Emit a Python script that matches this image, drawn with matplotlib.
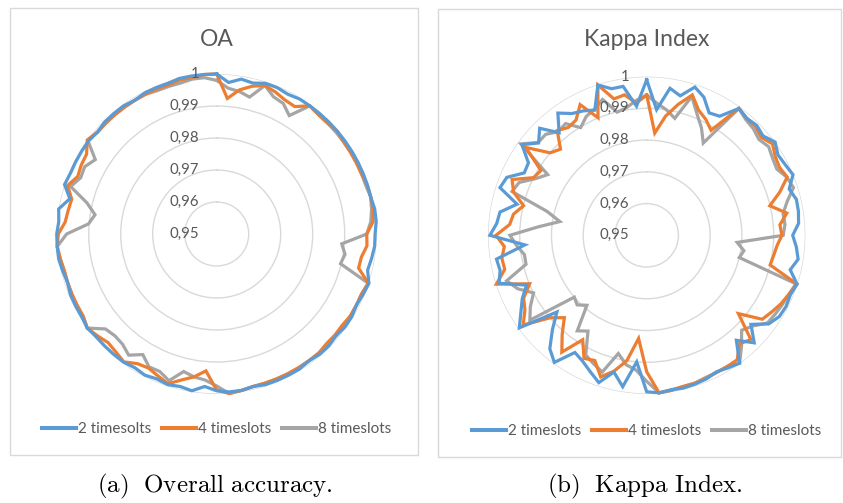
import numpy as np
import matplotlib.pyplot as plt
from matplotlib.patches import Rectangle
from matplotlib.lines import Line2D
from matplotlib.transforms import offset_copy

# 80 samples per series, starting at the top and going clockwise
oa_2 = [1.0, 0.9975, 0.999, 0.9985, 0.9995, 0.9995, 0.999, 0.9995, 0.9995, 0.9995,
        0.9995, 0.9995, 0.9995, 0.9995, 0.9995, 0.9995, 0.9995, 0.9995, 1.0, 1.0,
        0.9995, 0.9995, 0.999, 0.9985, 1.0, 0.9995, 0.999, 0.9995, 0.9995, 0.999,
        0.9995, 0.9995, 0.999, 0.9995, 0.9995, 0.9995, 0.9995, 0.999, 0.9995, 0.9995,
        0.999, 0.9978, 0.9996, 0.999, 0.9995, 0.999, 0.9995, 0.999, 0.9995, 0.9995,
        0.9995, 0.9995, 1.0, 0.9995, 0.9995, 0.9995, 0.999, 0.9995, 1.0, 1.0,
        1.0, 0.9995, 1.0, 0.9972, 1.0, 0.9995, 0.9995, 0.9995, 0.9995, 0.999,
        0.9995, 0.9995, 0.9995, 0.999, 0.9995, 0.9995, 0.9995, 1.0, 1.0, 1.0]
oa_4 = [1.0, 0.9925, 0.9956, 0.9975, 0.9988, 0.998, 0.997, 0.9967, 0.9995, 0.999,
        0.999, 0.9995, 0.999, 0.999, 0.999, 0.999, 0.9995, 0.9995, 0.9995, 0.999,
        0.9969, 0.9971, 0.9958, 0.9956, 0.9998, 0.999, 0.999, 0.999, 0.9985, 0.9986,
        0.9985, 0.999, 0.999, 0.999, 0.999, 0.999, 0.999, 0.999, 0.9995, 1.0,
        0.9988, 0.9929, 0.9952, 0.9969, 0.9992, 0.998, 0.997, 0.9975, 0.9994, 0.9985,
        0.998, 0.999, 1.0, 0.999, 0.999, 0.999, 0.999, 0.999, 0.9995, 1.0,
        0.9995, 0.9975, 0.997, 0.9966, 0.999, 0.997, 0.9975, 0.9977, 1.0, 0.999,
        0.999, 0.999, 0.999, 0.999, 0.999, 0.999, 0.999, 0.9995, 0.9995, 1.0]
oa_8 = [0.998, 0.9957, 0.9951, 0.994, 0.9988, 0.9964, 0.9958, 0.9934, 0.9995, 0.999,
        0.999, 0.999, 0.999, 0.999, 0.999, 0.999, 0.999, 0.9995, 0.999, 0.9983,
        0.9969, 0.9892, 0.9906, 0.9898, 0.9998, 0.999, 0.999, 0.999, 0.999, 0.999,
        0.999, 0.999, 0.999, 0.999, 0.999, 0.999, 0.999, 0.999, 0.9995, 1.0,
        0.9975, 0.9958, 0.9952, 0.9942, 0.9982, 0.9965, 0.9966, 0.9942, 0.9968, 0.9953,
        0.995, 0.9957, 1.0, 0.999, 0.999, 0.999, 0.999, 0.999, 0.9995, 1.0,
        0.9969, 0.9902, 0.9885, 0.9917, 0.998, 0.996, 0.9963, 0.9945, 0.9998, 0.999,
        0.999, 0.999, 0.999, 0.999, 0.999, 0.9985, 0.9985, 0.9985, 0.999, 0.999]

kappa_2 = [0.999, 0.9897, 0.9969, 0.9952, 0.9991, 0.9971, 0.9933, 0.994, 0.9994, 0.9985,
           0.999, 0.9982, 1.0, 0.9985, 0.999, 0.9999, 0.9972, 0.9985, 0.9984, 0.998,
           0.996, 0.9973, 0.9983, 0.9965, 0.9998, 0.999, 0.9993, 0.999, 0.9975, 0.9932,
           0.9979, 0.9935, 0.9998, 0.999, 0.9983, 0.999, 0.9993, 0.9995, 0.9993, 0.9998,
           0.9993, 0.99, 0.9983, 0.9943, 0.9988, 0.9965, 0.9945, 0.9933, 0.9995, 0.997,
           0.992, 0.9872, 0.9996, 0.9965, 0.994, 0.991, 0.9989, 0.9975, 0.9979, 0.9885,
           0.9994, 0.9974, 0.9968, 0.992, 0.9986, 0.9977, 0.9933, 0.9937, 0.9986, 0.9948,
           0.9977, 0.9925, 0.9976, 0.995, 0.994, 0.9927, 0.9998, 0.9975, 0.9975, 0.9908]
kappa_4 = [0.9942, 0.9823, 0.988, 0.9924, 0.9965, 0.9927, 0.991, 0.9888, 0.9994, 0.9985,
           0.9985, 0.9975, 0.999, 0.9975, 0.997, 0.9979, 0.9941, 0.9899, 0.9947, 0.9921,
           0.9926, 0.9912, 0.9905, 0.99, 0.9998, 0.9985, 0.9975, 0.9962, 0.995, 0.988,
           0.9964, 0.995, 0.9985, 0.9985, 0.9985, 0.9988, 0.999, 0.999, 0.9995, 0.9998,
           0.993, 0.9826, 0.99, 0.994, 0.9969, 0.9927, 0.9935, 0.9886, 0.9955, 0.991,
           0.9867, 0.99, 0.9981, 0.995, 0.9935, 0.9899, 0.9998, 0.996, 0.9962, 0.995,
           0.9975, 0.9933, 0.9925, 0.9899, 0.9941, 0.9959, 0.99, 0.9891, 0.9971, 0.99,
           0.9884, 0.9934, 0.992, 0.9926, 0.9962, 0.9901, 0.9998, 0.9942, 0.9948, 0.9918]
kappa_8 = [0.9942, 0.9917, 0.99, 0.9879, 0.996, 0.9914, 0.988, 0.9841, 0.9994, 0.998,
           0.9975, 0.9965, 0.9975, 0.9965, 0.996, 0.9978, 0.9986, 0.9955, 0.9935, 0.9937,
           0.993, 0.9786, 0.981, 0.98, 0.9994, 0.9985, 0.998, 0.9975, 0.997, 0.994,
           0.9923, 0.996, 0.9998, 0.9985, 0.9985, 0.9985, 0.999, 0.999, 0.9993, 0.9998,
           0.996, 0.9926, 0.9913, 0.9883, 0.9953, 0.9938, 0.9923, 0.9854, 0.9872, 0.979,
           0.981, 0.98, 0.9955, 0.993, 0.99, 0.994, 0.9964, 0.9891, 0.989, 0.9911,
           0.9931, 0.9842, 0.9777, 0.9823, 0.9946, 0.9935, 0.9893, 0.9866, 0.999, 0.995,
           0.995, 0.9929, 0.9935, 0.9898, 0.992, 0.993, 0.995, 0.9899, 0.9907, 0.9926]

ring_values = [0.95, 0.96, 0.97, 0.98, 0.99, 1.0]
ring_labels = ['0,95', '0,96', '0,97', '0,98', '0,99', '1']
legend_oa = ['2 timesolts', '4 timeslots', '8 timeslots']
legend_kappa = ['2 timeslots', '4 timeslots', '8 timeslots']
colors = ['#5B9BD5', '#ED7D31', '#A5A5A5']
text_color = '#595959'

plt.rcParams['font.family'] = ['Lato', 'DejaVu Sans']
plt.rcParams['mathtext.fontset'] = 'cm'

W, H = 843, 503
fig = plt.figure(figsize=(W / 100, H / 100), dpi=100)


def px_rect(x0, y0, x1, y1):
    # pixel box (top-left origin) -> figure fraction
    return [x0 / W, 1 - y1 / H, (x1 - x0) / W, (y1 - y0) / H]


def panel(box, center, radius, title, series, labels, legend_y, caption, cap_x):
    fig.patches.append(Rectangle((box[0] / W, 1 - box[3] / H),
                                 (box[2] - box[0]) / W, (box[3] - box[1]) / H,
                                 transform=fig.transFigure, fill=False,
                                 edgecolor='#d9d9d9', linewidth=1.0))
    cx, cy = center
    ax = fig.add_axes(px_rect(cx - radius, cy - radius, cx + radius, cy + radius),
                      projection='polar')
    ax.set_theta_zero_location('N')
    ax.set_theta_direction(-1)
    ax.patch.set_alpha(0)
    ax.spines['polar'].set_visible(False)
    ax.set_xticks([])
    ax.set_yticks(ring_values)
    ax.set_yticklabels([])
    ax.tick_params(axis='y', length=0)
    ax.yaxis.grid(True, color='#d9d9d9', linewidth=1.0)
    ax.set_ylim(0.95, 1.0)

    n = len(series[0])
    theta = np.linspace(0, 2 * np.pi, n + 1)
    for vals, c in reversed(list(zip(series, colors))):
        v = list(vals) + [vals[0]]
        ax.plot(theta, v, color=c, linewidth=2.3, solid_joinstyle='miter', clip_on=False)

    tr = offset_copy(ax.transData, fig=fig, x=-12.7, y=0, units='points')
    for val, lab in zip(ring_values, ring_labels):
        ax.text(0, val, lab, transform=tr, ha='right', va='center',
                fontsize=10.8, color=text_color)

    fig.text(cx / W, 1 - 39 / H, title, ha='center', va='center',
             fontsize=16.5, color=text_color)

    handles = [Line2D([], [], color=c, linewidth=2.9) for c in colors]
    fig.legend(handles, labels, loc='center', bbox_to_anchor=(cx / W, 1 - legend_y / H),
               ncol=3, frameon=False, fontsize=11, handlelength=2.2,
               handletextpad=0.15, columnspacing=0.7, labelcolor=text_color,
               borderaxespad=0)

    fig.text(cap_x / W, 1 - 486 / H, caption, ha='center', va='center', fontsize=18)


panel((10, 8, 418, 455), (216.7, 234), 160, 'OA', [oa_2, oa_4, oa_8], legend_oa, 429,
      r'$\mathrm{(a)\ \ Overall\ accuracy.}$', 215)
panel((438, 9, 841, 457), (646.7, 235.3), 158.7, 'Kappa Index',
      [kappa_2, kappa_4, kappa_8], legend_kappa, 431,
      r'$\mathrm{(b)\ \ Kappa\ Index.}$', 645)

fig.savefig('out.png', dpi=100)
